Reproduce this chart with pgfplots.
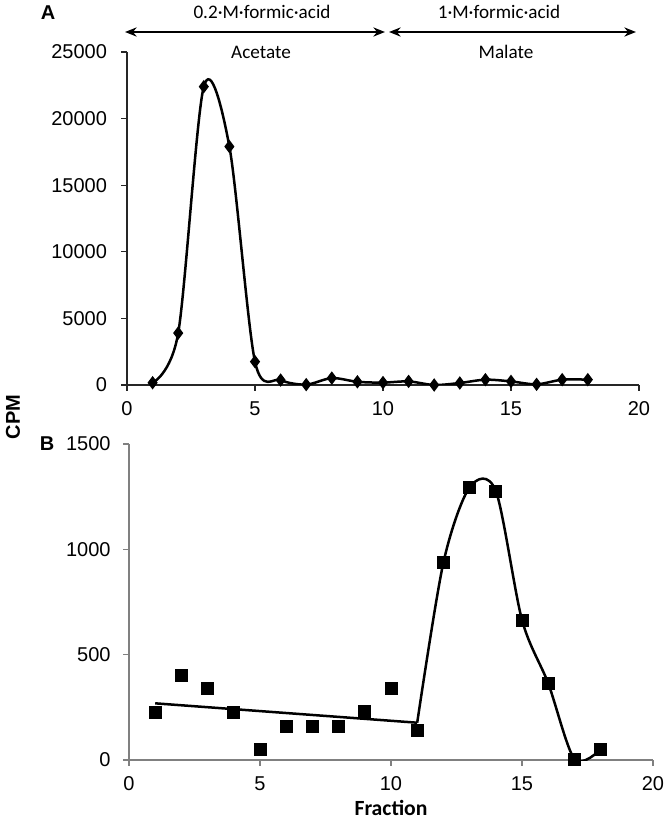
\documentclass[border=0pt]{standalone}
\usepackage{fontspec}
\setmainfont{Liberation Sans}
\newfontfamily\carlito{Carlito}
\usepackage{pgfplots}
\pgfplotsset{compat=1.18}
\usetikzlibrary{arrows.meta}

\pgfplotstableread{
x y
1 170
2 3900
3 22400
4 17900
5 1750
6 370
7 30
8 520
9 240
10 180
11 270
12 0
13 150
14 400
15 270
16 50
17 400
18 400
}\dataA

\pgfplotstableread{
x y
1 225
2 403
3 340
4 225
5 50
6 161
7 161
8 161
9 229
10 340
11 142
12 937
13 1294
14 1277
15 665
16 364
17 5
18 50
}\dataB

\pgfplotstableread{
x y
1 269
11 177
}\lineB

\pgfplotstableread{
x y
11 177
12 937
13 1294
14 1277
15 665
16 364
17 5
18 50
}\curveB

\begin{document}
\begin{tikzpicture}
\useasboundingbox (0pt,0pt) rectangle (399.6pt,493.8pt);
\pgfplotsset{
  myaxis/.style={
    scale only axis,
    axis x line=bottom, axis y line=left,
    axis line style={-, line width=0.8pt},
    tick align=outside, major tick length=3.5pt,
    tick style={line width=0.8pt},
    xmin=0, xmax=20, xtick={0,5,10,15,20},
    /pgf/number format/assume math mode=true,
    /pgf/number format/1000 sep={},
    scaled y ticks=false,
    ticklabel style={font=\fontsize{12}{14}\selectfont},
    x tick label style={yshift=-3pt},
  }
}
% Panel A
\begin{axis}[myaxis, at={(76.2pt,262.8pt)}, anchor=south west,
  width=307.2pt, height=199.8pt,
  ymin=0, ymax=25000, ytick={0,5000,10000,15000,20000,25000},
  y tick label style={xshift=-5pt},
  axis line style={black!85}, tick style={black!85}]
\addplot[black, line width=1.5pt, smooth, mark=diamond*, mark size=3.4pt,
  mark options={fill=black, line width=0.8pt}] table[x=x,y=y] {\dataA};
\end{axis}
% Panel B
\begin{axis}[myaxis, at={(77.4pt,37.8pt)}, anchor=south west,
  width=314.4pt, height=189.6pt,
  ymin=0, ymax=1500, ytick={0,500,1000,1500},
  y tick label style={xshift=-4pt},
  axis line style={black!50}, tick style={black!50}]
\addplot[black, line width=1.5pt] table[x=x,y=y] {\lineB};
\addplot[black, line width=1.5pt, smooth] table[x=x,y=y] {\curveB};
\addplot[only marks, mark=square*, mark size=3.6pt, mark options={fill=black, draw=black}] table[x=x,y=y] {\dataB};
\end{axis}
% header annotations (coordinates in reference pixels, 1px = 0.6pt)
\begin{scope}[x=0.6pt,y=0.6pt]
\draw[line width=1.5pt, {Stealth[length=7pt,width=5.5pt]}-{Stealth[length=7pt,width=5.5pt]}] (125,791) -- (385,791);
\draw[line width=1.5pt, {Stealth[length=7pt,width=5.5pt]}-{Stealth[length=7pt,width=5.5pt]}] (389,791) -- (636,791);
\node[font=\carlito\fontsize{11.5}{13}\selectfont] at (262,811) {0.2·M·formic·acid};
\node[font=\carlito\fontsize{11.5}{13}\selectfont] at (261,771) {Acetate};
\node[font=\carlito\fontsize{11.5}{13}\selectfont] at (499,811) {1·M·formic·acid};
\node[font=\carlito\fontsize{11.5}{13}\selectfont] at (506,771) {Malate};
\node[font=\bfseries\fontsize{12}{14}\selectfont] at (48,810) {A};
\node[font=\bfseries\fontsize{12}{14}\selectfont] at (47,379) {B};
\node[font=\bfseries\fontsize{12}{14}\selectfont, rotate=90] at (13,406) {CPM};
\node[font=\carlito\bfseries\fontsize{13}{15}\selectfont] at (391,15) {Fraction};
\end{scope}
\end{tikzpicture}
\end{document}
